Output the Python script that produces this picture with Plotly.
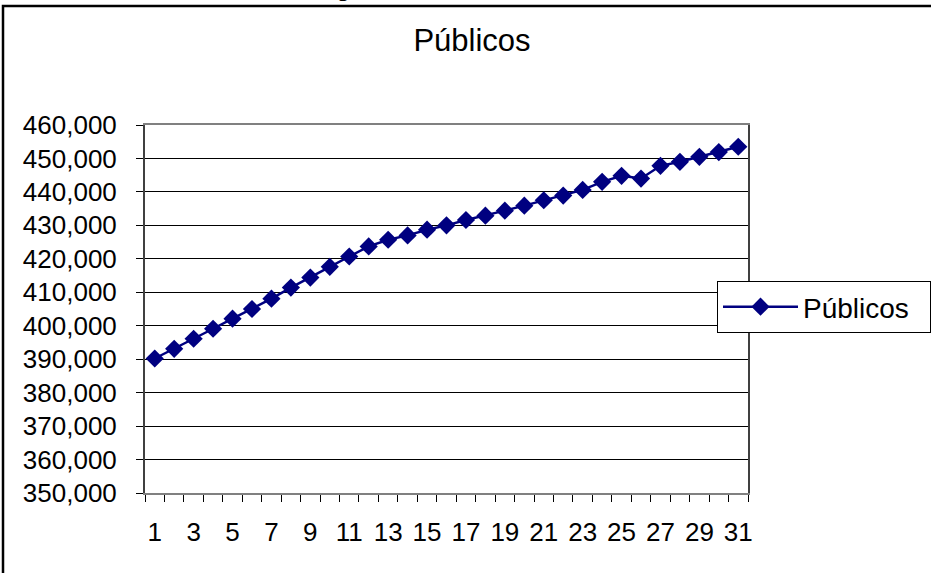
import plotly.graph_objects as go

# datos
dias = list(range(1, 32))
publicos = [390200, 393100, 396100, 399100, 402100, 405000, 408100, 411400,
            414400, 417600, 420700, 423700, 425700, 427000, 428700, 430000,
            431600, 432900, 434400, 435900, 437500, 438900, 440600, 443000,
            444800, 444000, 447800, 449000, 450500, 451900, 453500]
etiquetas_x = list(range(1, 32, 2))
ticks_y = list(range(350000, 460001, 10000))

W, H = 931, 573
L, R, T, B = 145, 748, 125, 493


def px_x(p):
    return (p - L) / (R - L)


def px_y(p):
    return (B - p) / (B - T)


fig = go.Figure()
fig.add_trace(go.Scatter(
    x=dias, y=publicos, name="Públicos\u00a0\u00a0", mode="lines+markers",
    line=dict(color="#000080", width=2.5),
    marker=dict(symbol="diamond", size=14, color="#000080"),
))

fuente = "Liberation Sans, Arial, sans-serif"

fig.update_layout(
    width=W, height=H,
    margin=dict(l=L, r=W - R, t=T, b=H - B, autoexpand=False),
    paper_bgcolor="white", plot_bgcolor="white",
    font=dict(family=fuente, color="black", size=26),
    title=dict(text="Públicos", x=px_x(472), xref="paper", xanchor="center",
               y=1 - 40 / H, yanchor="middle", font=dict(size=31)),
    showlegend=True,
    legend=dict(x=px_x(717), y=px_y(281), xref="paper", yref="paper",
                xanchor="left", yanchor="top", bordercolor="black",
                borderwidth=1, bgcolor="white", font=dict(size=28),
                itemwidth=75),
    xaxis=dict(range=[0.5, 31.5], tickvals=etiquetas_x, ticks="",
               showgrid=False, zeroline=False, showline=True,
               linecolor="#808080", linewidth=2, mirror=True,
               ticklabelstandoff=15,
               minor=dict(tick0=0.5, dtick=1, ticks="outside", ticklen=7,
                          tickcolor="black", tickwidth=1, showgrid=False)),
    yaxis=dict(range=[350000, 460000], tickvals=ticks_y, tickformat=",d",
               ticks="outside", ticklen=7, tickcolor="black",
               showgrid=True, gridcolor="black", gridwidth=1,
               zeroline=False, showline=True, linecolor="#404040",
               linewidth=2, mirror=True, ticklabelstandoff=14),
)

# marco exterior del grafico (se sale por la derecha y abajo)
fig.add_shape(type="rect", xref="paper", yref="paper",
              x0=px_x(3), x1=px_x(W + 20), y0=px_y(H + 20), y1=px_y(6),
              line=dict(color="black", width=2.5), layer="below")
# texto cortado encima del marco
fig.add_annotation(text="g", xref="paper", yref="paper", x=px_x(343),
                   y=px_y(4), xanchor="center", yanchor="bottom",
                   showarrow=False, font=dict(size=26))

fig.write_html("out.html", config={"displayModeBar": False},
               post_script="document.body.style.margin='0';")
